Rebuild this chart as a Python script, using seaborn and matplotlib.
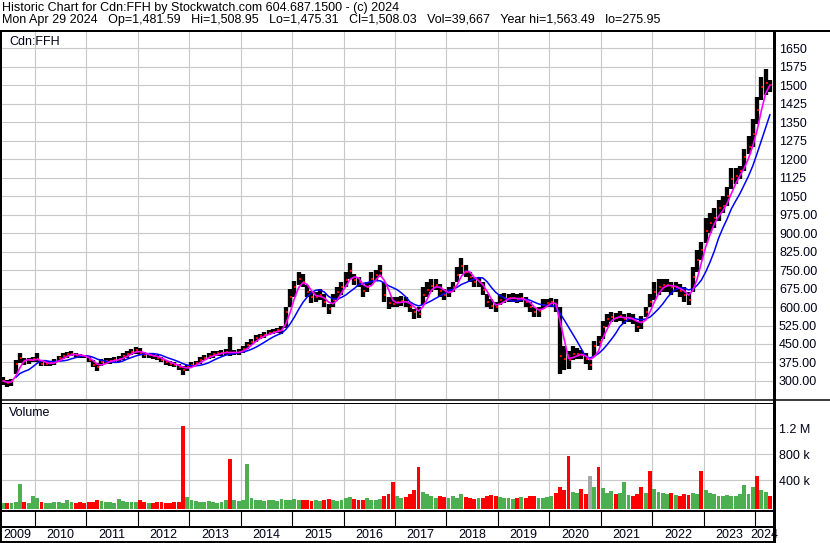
import numpy as np
import pandas as pd
import matplotlib
matplotlib.use("Agg")
import matplotlib.pyplot as plt
from matplotlib.lines import Line2D
import seaborn as sns

# ---------------- data (monthly, May 2009 .. Apr 2024) ----------------
first_month, last_month = "2009-05", "2024-04"

price_high = [
    318, 305, 310, 385, 415, 395, 395, 398,
    413, 385, 380, 382, 388, 402, 412, 418, 420, 415, 410, 405,
    400, 385, 372, 388, 392, 395, 396, 402, 412, 422, 428, 438,
    432, 418, 415, 410, 405, 396, 385, 380, 375, 370, 362, 366,
    376, 382, 396, 405, 412, 420, 422, 425, 428, 478, 426, 428,
    442, 458, 472, 486, 492, 498, 506, 510, 515, 522, 600, 675,
    705, 740, 735, 690, 665, 662, 672, 652, 612, 652, 682, 702,
    742, 778, 732, 722, 690, 702, 742, 752, 770, 702, 642, 640,
    640, 646, 642, 622, 592, 600, 682, 702, 712, 712, 692, 672,
    682, 702, 762, 798, 772, 742, 722, 722, 702, 652, 632, 622,
    652, 656, 652, 656, 652, 656, 642, 622, 602, 602, 632, 632,
    636, 632, 600, 440, 420, 440, 432, 426, 415, 386, 462, 482,
    542, 572, 578, 576, 582, 572, 576, 572, 542, 562, 602, 652,
    702, 712, 712, 712, 702, 702, 692, 682, 662, 762, 832, 862,
    962, 982, 1002, 1032, 1052, 1088, 1165, 1162, 1172, 1242, 1292, 1362,
    1452, 1532, 1565, 1522,
]
price_low = [
    283, 276, 280, 330, 372, 365, 370, 375,
    378, 360, 360, 362, 365, 380, 390, 395, 400, 398, 395, 392,
    375, 355, 340, 360, 370, 370, 375, 375, 385, 395, 405, 410,
    405, 395, 395, 390, 385, 375, 365, 360, 358, 345, 325, 340,
    355, 360, 370, 385, 390, 395, 400, 402, 405, 400, 405, 405,
    415, 430, 445, 460, 470, 475, 485, 490, 495, 490, 515, 600,
    640, 690, 680, 640, 615, 620, 630, 600, 570, 600, 630, 650,
    680, 715, 690, 680, 640, 660, 690, 710, 720, 620, 590, 600,
    600, 605, 600, 580, 550, 555, 610, 640, 660, 670, 640, 630,
    640, 660, 700, 735, 720, 700, 680, 680, 650, 600, 590, 580,
    610, 615, 620, 620, 615, 620, 600, 580, 560, 560, 590, 600,
    600, 580, 330, 345, 350, 385, 390, 390, 370, 345, 400, 440,
    470, 520, 540, 540, 545, 530, 540, 530, 500, 510, 560, 600,
    630, 650, 660, 660, 650, 660, 640, 620, 610, 660, 740, 790,
    860, 900, 920, 950, 980, 1010, 1080, 1100, 1120, 1150, 1220, 1250,
    1340, 1440, 1460, 1470,
]
price_close = [
    300, 290, 298, 370, 395, 380, 385, 388,
    390, 370, 370, 372, 378, 392, 400, 408, 410, 405, 402, 400,
    385, 365, 355, 375, 380, 382, 385, 390, 400, 410, 418, 425,
    415, 405, 405, 400, 395, 385, 375, 370, 365, 358, 345, 355,
    365, 372, 385, 395, 400, 408, 412, 415, 418, 414, 415, 418,
    430, 445, 460, 475, 482, 488, 495, 500, 505, 508, 580, 640,
    680, 715, 700, 660, 640, 640, 650, 620, 590, 630, 660, 680,
    710, 745, 710, 700, 665, 680, 715, 730, 745, 650, 618, 612,
    620, 625, 620, 600, 580, 572, 650, 670, 685, 690, 665, 650,
    660, 680, 730, 765, 740, 720, 700, 700, 670, 620, 605, 600,
    630, 635, 635, 638, 630, 635, 620, 600, 580, 585, 610, 615,
    620, 610, 400, 390, 385, 410, 410, 405, 390, 365, 440, 460,
    520, 550, 560, 555, 565, 550, 555, 550, 520, 540, 580, 620,
    660, 680, 690, 690, 680, 680, 665, 650, 630, 720, 790, 830,
    910, 940, 960, 1000, 1010, 1050, 1120, 1130, 1150, 1210, 1250, 1300,
    1400, 1490, 1510, 1500,
]
volume_k = [
    55, 45, 50, 60, 340, 70, 55, 150,
    130, 60, 55, 50, 70, 60, 55, 100, 60, 55, 60, 50,
    70, 60, 100, 80, 60, 70, 55, 110, 80, 60, 70, 60,
    100, 60, 55, 50, 60, 70, 55, 50, 60, 65, 1230, 140,
    100, 80, 70, 60, 75, 60, 55, 70, 100, 720, 90, 80,
    100, 650, 120, 100, 90, 80, 100, 90, 80, 110, 100, 90,
    110, 100, 90, 100, 80, 90, 80, 100, 110, 90, 80, 100,
    120, 140, 110, 90, 100, 120, 100, 90, 110, 160, 180, 370,
    150, 120, 140, 180, 250, 610, 220, 180, 150, 130, 150, 140,
    120, 150, 130, 180, 140, 120, 110, 130, 120, 160, 170, 150,
    140, 130, 120, 110, 130, 140, 120, 160, 150, 130, 120, 140,
    160, 200, 300, 250, 770, 220, 200, 260, 180, 460, 300, 610,
    280, 200, 230, 180, 200, 370, 170, 160, 180, 290, 200, 540,
    260, 220, 200, 180, 200, 170, 160, 180, 170, 200, 190, 540,
    250, 200, 180, 160, 150, 170, 160, 150, 180, 330, 180, 300,
    470, 250, 220, 160,
]
# bar direction of the big volume spikes as seen in the chart
volume_spike_direction = {
    "2009-09": "up", "2009-12": "up", "2010-01": "up", "2012-11": "down",
    "2013-10": "down", "2014-02": "up", "2016-12": "down", "2017-06": "down",
    "2020-03": "down", "2020-05": "down", "2020-10": "flat", "2020-12": "down",
    "2021-06": "up", "2021-10": "down", "2021-12": "down", "2022-12": "down",
    "2023-10": "up", "2024-01": "down",
}

price_ticks = [300, 375, 450, 525, 600, 675, 750, 825, 900, 975,
               1050, 1125, 1200, 1275, 1350, 1425, 1500, 1575, 1650]
price_tick_labels = ["300.00", "375.00", "450.00", "525.00", "600.00", "675.00",
                     "750.00", "825.00", "900.00", "975.00", "1050", "1125", "1200",
                     "1275", "1350", "1425", "1500", "1575", "1650"]
volume_ticks = [400000, 800000, 1200000]
volume_tick_labels = ["400 k", "800 k", "1.2 M"]
years = list(range(2009, 2025))

title_line1 = "Historic Chart for Cdn:FFH by Stockwatch.com 604.687.1500 - (c) 2024"
title_line2 = ("Mon Apr 29 2024   Op=1,481.59   Hi=1,508.95   Lo=1,475.31   "
               "Cl=1,508.03   Vol=39,667   Year hi=1,563.49   lo=275.95")
symbol_label = "Cdn:FFH"
volume_label = "Volume"

# ---------------- build table ----------------
months = pd.period_range(first_month, last_month, freq="M")
t = months.year + (months.month - 0.5) / 12.0
df = pd.DataFrame({"t": t, "high": price_high, "low": price_low,
                   "close": price_close, "volume": np.array(volume_k) * 1000.0})
df["ma_fast"] = df["close"].rolling(3, min_periods=1).mean()
df["ma_slow"] = df["close"].rolling(7, min_periods=4).mean()

RED, GREEN, GRAY = "#ff0000", "#4cb050", "#a8a8a8"
dir_color = {"up": GREEN, "down": RED, "flat": GRAY}
direction = np.where(df["close"].diff().fillna(1) >= 0, "up", "down").astype(object)
for m, d in volume_spike_direction.items():
    direction[months.get_loc(pd.Period(m, "M"))] = d
vol_colors = [dir_color[d] for d in direction]

# ---------------- figure ----------------
sns.set_theme(style="white")
plt.rcParams["font.family"] = ["Liberation Sans", "DejaVu Sans"]
plt.rcParams["font.size"] = 9

W, H = 830, 543
fig = plt.figure(figsize=(W / 100, H / 100), dpi=100, facecolor="white")


def box(x0, y0, x1, y1):
    return [x0 / W, 1 - y1 / H, (x1 - x0) / W, (y1 - y0) / H]


def fline(x0, y0, x1, y1, lw_px, color="black"):
    fig.add_artist(Line2D([x0 / W, x1 / W], [1 - y0 / H, 1 - y1 / H],
                          transform=fig.transFigure, lw=lw_px * 0.72,
                          color=color, solid_capstyle="butt"))


XMIN, XMAX = 2009.319, 2024.37
GRID = "#c8c8c8"
TXT = "#000018"
year_bounds = [y for y in years if XMIN < y < XMAX]

# price panel
ax = fig.add_axes(box(0, 32, 774, 399))
ax.set_xlim(XMIN, XMAX)
ax.set_ylim(227, 1715)
for v in price_ticks:
    ax.axhline(v, color=GRID, lw=0.8, zorder=0)
for yb in year_bounds:
    ax.axvline(yb, color=GRID, lw=0.8, zorder=0)
ax.vlines(df["t"], df["low"], df["high"], color="black", lw=3.1, zorder=2)
ax.scatter(df["t"] + 0.02, df["close"], marker="s", s=3.5, color=RED,
           linewidths=0, zorder=3)
sns.lineplot(data=df, x="t", y="ma_slow", ax=ax, color="#0000ff", lw=1.1,
             legend=False, zorder=4)
sns.lineplot(data=df, x="t", y="ma_fast", ax=ax, color="#ff00ff", lw=1.2,
             legend=False, zorder=5)
ax.set_xlabel("")
ax.set_ylabel("")
ax.set_xticks([])
ax.yaxis.tick_right()
ax.set_yticks(price_ticks)
ax.set_yticklabels(price_tick_labels)
ax.tick_params(axis="y", length=0, pad=3.6, labelsize=9, labelcolor=TXT)
for s in ax.spines.values():
    s.set_visible(False)
ax.set_facecolor("white")

# volume panel
axv = fig.add_axes(box(0, 403, 774, 509))
axv.set_xlim(XMIN, XMAX)
VBOT = -45000
axv.set_ylim(VBOT, 1589000)
for v in volume_ticks:
    axv.axhline(v, color=GRID, lw=0.8, zorder=0)
for yb in year_bounds:
    axv.axvline(yb, color=GRID, lw=0.8, zorder=0)
axv.bar(df["t"], df["volume"] - VBOT, bottom=VBOT, width=0.9 / 12,
        color=vol_colors, linewidth=0, zorder=2)
axv.set_xticks([])
axv.yaxis.tick_right()
axv.set_yticks(volume_ticks)
axv.set_yticklabels(volume_tick_labels)
axv.tick_params(axis="y", length=0, pad=3.6, labelsize=9, labelcolor=TXT)
for s in axv.spines.values():
    s.set_visible(False)

# date strip
axd = fig.add_axes(box(0, 510, 774, 542))
axd.set_xlim(XMIN, XMAX)
axd.set_ylim(542, 510)
axd.axis("off")
axd.vlines(year_bounds, 511, 526, color="black", lw=0.8)
for y in years:
    a, b = max(y, XMIN), min(y + 1, XMAX)
    axd.text((a + b) / 2, 534.5, str(y), ha="center", va="center",
             fontsize=9, color=TXT)

# frame lines
fline(0, 30.5, 830, 30.5, 2)
fline(1, 30, 1, 543, 2)
fline(774, 30, 774, 543, 3)
fline(0, 400, 830, 400, 1.5)
fline(0, 402.5, 774, 402.5, 1)
fline(0, 510.5, 774, 510.5, 2)
fline(0, 526.5, 774, 526.5, 2)
fline(0, 541.5, 774, 541.5, 2)

# texts
fig.text(2 / W, 1 - 7.5 / H, title_line1, va="center", ha="left", fontsize=9, color="black")
fig.text(2 / W, 1 - 20.5 / H, title_line2, va="center", ha="left", fontsize=9, color="black")
fig.text(9 / W, 1 - 42 / H, symbol_label, va="center", ha="left", fontsize=9, color=TXT)
fig.text(9 / W, 1 - 413 / H, volume_label, va="center", ha="left", fontsize=9, color=TXT)

fig.savefig("out.png", dpi=100, facecolor="white")
